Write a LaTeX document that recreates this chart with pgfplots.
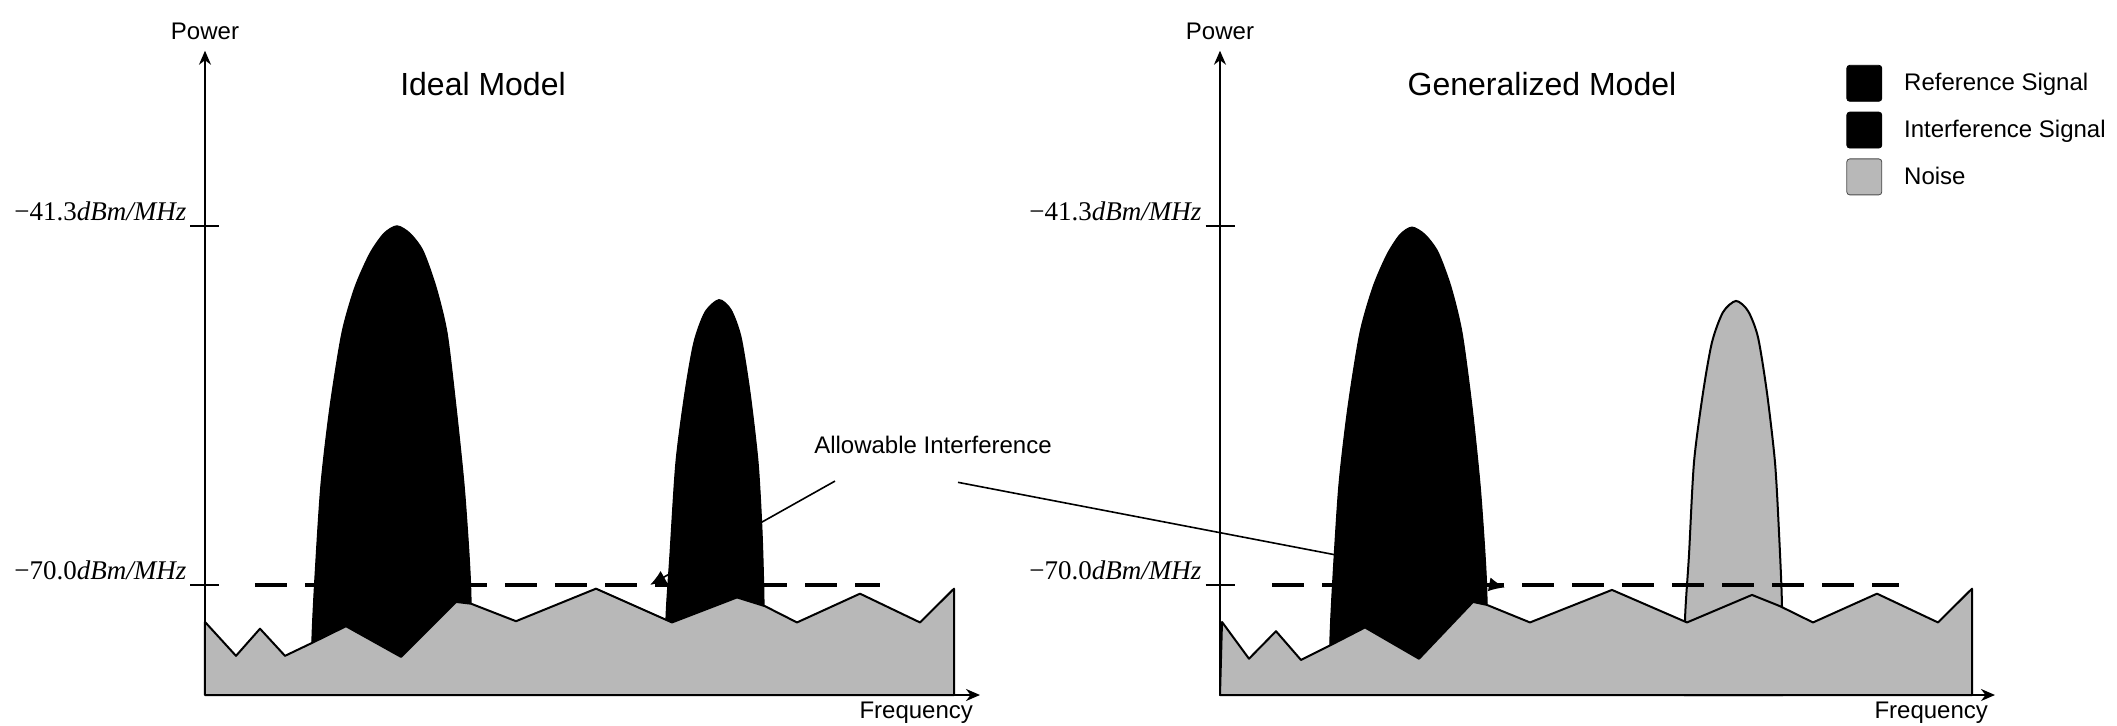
\documentclass[border=0pt]{standalone}
\usepackage{fontspec}
\setmainfont{Liberation Sans}
\newfontfamily\serifx{Liberation Serif}
\usepackage{pgfplots}
\pgfplotsset{compat=1.18}
\usetikzlibrary{arrows.meta}
\definecolor{noisegray}{gray}{0.72}

\tikzset{annot/.style={black, line width=0.8pt, -{Latex[length=8pt,width=7pt]}}}
\pgfplotsset{
  panel/.style={
    x=5pt, y=6.255pt,
    xmin=0, xmax=77.5, ymin=-78.8, ymax=-27.3,
    axis lines=left,
    axis line style={line width=1.1pt, -{Stealth[length=7pt,width=6pt]}},
    axis on top=true,
    clip=false,
    xtick=\empty,
    ytick={-70,-41.3},
    tick align=center,
    major tick length=14.5pt,
    tick style={line width=0.9pt, black},
    yticklabels={{\serifx −70.0\textit{dBm/MHz}},{\serifx −41.3\textit{dBm/MHz}}},
    yticklabel style={anchor=base east, xshift=1.5pt, yshift=2.5pt, font=\fontsize{13.5pt}{15pt}\selectfont},
    ylabel={Power}, xlabel={Frequency},
    every axis y label/.style={at={(axis description cs:0,1)}, anchor=south, yshift=2pt, font=\fontsize{12pt}{14pt}\selectfont},
    every axis x label/.style={at={(axis description cs:1,0)}, anchor=north east, yshift=0pt, font=\fontsize{12pt}{14pt}\selectfont},
  },
  peak/.style={fill=black, draw=black, line width=0.6pt, smooth, tension=0.45},
  noise/.style={fill=noisegray, draw=black, line width=1pt, line join=round},
  thresh/.style={black, line width=1.6pt, dash pattern=on 16pt off 9pt},
}

\begin{document}
\begin{tikzpicture}
\path[use as bounding box] (-102.5pt,-15pt) rectangle (956pt,347.5pt);

% ---------------- Ideal model ----------------
\begin{axis}[panel, at={(0pt,0pt)}, anchor=south west]
  \draw[annot] (axis cs:63.0,-61.7) -- (axis cs:44.5,-70.0);
  % reference signal
  \addplot[peak] coordinates {(10.7,-78.8) (10.7,-74.4) (11.0,-69.4) (11.6,-62.0) (12.5,-55.8) (13.7,-49.85) (15.0,-46.2) (16.5,-43.5) (17.9,-41.9) (19.2,-41.3) (20.5,-41.9) (21.8,-43.3) (23.1,-46.2) (24.2,-49.85) (25.1,-55.8) (25.9,-62.0) (26.4,-67.6) (26.6,-71.4) (26.6,-78.8)} -- cycle;
  % interference signal
  \addplot[peak] coordinates {(46.1,-78.8) (46.1,-72.8) (46.5,-67.6) (47.1,-60.2) (48.0,-54.65) (48.9,-50.6) (50.0,-48.2) (51.4,-47.2) (52.6,-48.0) (53.6,-50.2) (54.5,-54.65) (55.3,-60.2) (55.7,-65.8) (55.9,-71.7) (55.9,-78.8)} -- cycle;
  % noise
  \addplot[noise] coordinates {(0,-78.8) (0,-72.96) (3.1,-75.67) (5.5,-73.5) (8.0,-75.67) (10.8,-74.6) (14.1,-73.3) (19.6,-75.75) (25.1,-71.36) (26.6,-71.5) (31.1,-72.9) (39.1,-70.3) (46.7,-73.0) (53.2,-71.0) (56.0,-71.7) (59.2,-73.0) (65.5,-70.7) (71.5,-73.0) (74.9,-70.3) (74.9,-78.8)} -- cycle;
  \addplot[thresh] coordinates {(5.0,-70) (67.5,-70)};
  \node[font=\fontsize{16pt}{18pt}\selectfont] at (axis cs:27.8,-30.0) {Ideal Model};
  \node[font=\fontsize{12pt}{14pt}\selectfont] at (axis cs:72.8,-58.8) {Allowable Interference};
\end{axis}

% ---------------- Generalized model ----------------
\begin{axis}[panel, at={(507.5pt,0pt)}, anchor=south west,
  legend style={at={(axis cs:62.6,-28.4)}, anchor=north west, draw=none, fill=none,
    inner sep=0pt, row sep=5pt, font=\fontsize{12pt}{14pt}\selectfont,
    /tikz/every odd column/.append style={column sep=9pt}},
  legend cell align=left,
  legend image code/.code={\draw[#1, rounded corners=1.5pt] (0pt,-9pt) rectangle (17.5pt,9pt);},
]
  \draw[annot] (axis cs:-26.2,-61.8) -- (axis cs:28.5,-70.2);
  % reference signal
  \addplot[peak, forget plot] coordinates {(11.0,-78.8) (11.0,-74.4) (11.3,-69.4) (11.9,-62.0) (12.8,-55.8) (14.0,-49.85) (15.3,-46.2) (16.7,-43.6) (18.0,-42.0) (19.2,-41.4) (20.5,-42.0) (21.8,-43.4) (23.1,-46.2) (24.2,-49.85) (25.2,-55.8) (26.0,-62.0) (26.5,-67.6) (26.7,-71.4) (26.7,-78.8)} -- cycle;
  % interference signal (noise-like)
  \addplot[fill=noisegray, draw=black, line width=1pt, smooth, tension=0.45, forget plot] coordinates {(46.5,-78.8) (46.5,-72.8) (46.9,-67.6) (47.4,-60.2) (48.3,-54.65) (49.2,-50.6) (50.3,-48.2) (51.6,-47.3) (52.8,-48.1) (53.8,-50.2) (54.7,-54.65) (55.5,-60.2) (55.9,-65.8) (56.2,-71.7) (56.2,-78.8)} -- cycle;
  % noise
  \addplot[noise, forget plot] coordinates {(0,-78.8) (0.2,-72.96) (2.9,-75.9) (5.6,-73.7) (8.1,-76.0) (11.1,-74.8) (14.5,-73.4) (19.9,-75.9) (25.3,-71.36) (26.7,-71.6) (31.0,-73.0) (39.2,-70.4) (46.7,-73.0) (53.2,-70.8) (56.0,-71.7) (59.3,-73.0) (65.7,-70.7) (71.8,-73.0) (75.2,-70.3) (75.2,-78.8)} -- cycle;
  \addplot[thresh, forget plot] coordinates {(5.2,-70) (67.9,-70)};
  \node[font=\fontsize{16pt}{18pt}\selectfont] at (axis cs:32.2,-30.0) {Generalized Model};
  \addlegendimage{fill=black, draw=black}
  \addlegendentry{Reference Signal}
  \addlegendimage{fill=black, draw=black}
  \addlegendentry{Interference Signal}
  \addlegendimage{fill=noisegray, draw=black!70}
  \addlegendentry{Noise}
\end{axis}
\end{tikzpicture}
\end{document}
